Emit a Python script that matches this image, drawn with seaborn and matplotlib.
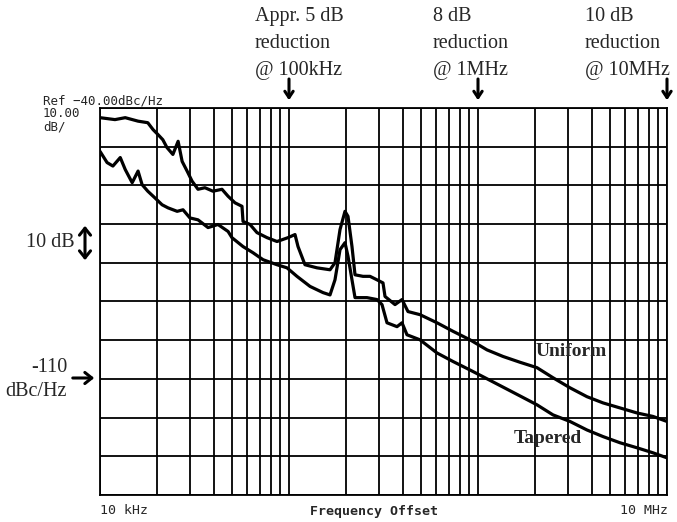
import numpy as np
import pandas as pd
import matplotlib
matplotlib.use('Agg')
import matplotlib.pyplot as plt
from matplotlib.ticker import LogLocator, NullFormatter
import seaborn as sns

# ============================================================
# Trace data
# (frequency offset in kHz, phase noise in dBc/Hz)
# ============================================================
uniform_khz = [10.0, 12.0, 13.6, 15.9, 17.9, 19.1, 20.3, 21.5, 22.6, 24.3,
               25.9, 27.2, 28.9, 30.7, 33.0, 35.9, 39.6, 44.2, 47.6, 51.8,
               56.4, 57.1, 62.2, 67.7, 76.5, 86.4, 98.8, 107.6, 111.6, 121.5,
               140.6, 164.8, 175.1, 186.2, 197.8, 205.2, 215.4, 223.5, 246.3, 268.3,
               292.2, 303.0, 314.3, 322.1, 363.8, 396.2, 426.2, 493.3, 606.9, 737.5,
               907.2, 1116, 1356, 1668, 2052, 2494, 3068, 3773, 4585, 5640,
               6938, 8434, 10000]
uniform_db = [-42.5, -43.0, -42.5, -43.4, -43.8, -45.6, -46.9, -48.2, -50.2, -52.0,
              -48.6, -53.8, -56.3, -58.9, -61.0, -60.6, -61.5, -61.0, -62.8, -64.5,
              -65.4, -69.3, -70.1, -72.2, -73.5, -74.5, -73.5, -72.7, -75.8, -80.5,
              -81.3, -81.8, -80.0, -71.4, -66.7, -68.0, -75.8, -83.1, -83.5, -83.5,
              -84.4, -84.8, -85.2, -88.7, -90.8, -89.5, -92.6, -93.4, -95.5, -97.7,
              -99.9, -102.5, -104.2, -105.7, -107.1, -109.7, -112.3, -114.6, -116.2, -117.5,
              -118.8, -119.7, -121.0]

tapered_khz = [10.0, 10.9, 11.7, 12.8, 13.6, 14.8, 15.9, 16.7, 17.9, 19.5,
               21.3, 22.9, 25.6, 27.5, 29.9, 33.0, 37.3, 42.1, 47.6, 49.9,
               57.1, 64.5, 72.9, 86.4, 97.6, 110.2, 129.2, 151.3, 164.8, 175.1,
               186.2, 197.8, 205.2, 215.4, 223.5, 258.6, 292.2, 310.5, 330.0, 372.8,
               396.2, 421.0, 493.3, 606.9, 737.5, 907.2, 1089, 1668, 2052, 2494,
               3068, 3773, 4585, 5640, 6938, 8434, 10000]
tapered_db = [-51.2, -54.1, -55.0, -52.8, -55.9, -59.3, -56.3, -59.8, -61.5, -63.2,
              -65.0, -65.8, -66.7, -66.3, -68.4, -68.9, -70.9, -70.1, -71.9, -73.5,
              -75.8, -77.4, -79.2, -80.5, -81.3, -83.5, -86.1, -87.7, -88.3, -84.4,
              -76.6, -74.8, -78.3, -84.4, -89.0, -89.0, -89.5, -90.8, -95.5, -96.5,
              -95.5, -98.6, -99.9, -103.3, -105.5, -107.7, -109.7, -114.4, -116.7, -119.3,
              -121.0, -123.2, -124.9, -126.5, -127.8, -129.1, -130.4]

ref_level = -40
db_per_div = 10
n_div = 10
f_start, f_stop = 1e4, 1e7

df = pd.concat([
    pd.DataFrame({'freq': np.array(uniform_khz) * 1e3, 'level': uniform_db, 'trace': 'Uniform'}),
    pd.DataFrame({'freq': np.array(tapered_khz) * 1e3, 'level': tapered_db, 'trace': 'Tapered'}),
])

# ============================================================
# Figure
# ============================================================
sns.set_style('white')
plt.rcParams['font.family'] = ['DejaVu Sans']

W, H = 677, 522
fig = plt.figure(figsize=(W / 100, H / 100), dpi=100)


def fx(px):
    return px / W


def fy(py):
    return 1 - py / H


ax = fig.add_axes([fx(100), fy(495), 567 / W, 387 / H])

sns.lineplot(data=df, x='freq', y='level', hue='trace',
             palette={'Uniform': 'black', 'Tapered': 'black'},
             estimator=None, sort=False, legend=False, lw=2.3, ax=ax)

ax.set_xscale('log')
ax.set_xlim(f_start, f_stop)
ax.set_ylim(ref_level - n_div * db_per_div, ref_level)
ax.set_yticks(np.arange(ref_level - n_div * db_per_div, ref_level + 1, db_per_div))
ax.xaxis.set_major_locator(LogLocator(base=10))
ax.xaxis.set_minor_locator(LogLocator(base=10, subs=range(2, 10)))
ax.xaxis.set_minor_formatter(NullFormatter())
ax.grid(which='both', color='black', lw=1.3)
ax.tick_params(which='both', length=0, labelbottom=False, labelleft=False)
ax.set_xlabel('')
ax.set_ylabel('')
for s in ax.spines.values():
    s.set_color('black')
    s.set_linewidth(1.3)

# analyzer annotations (monospace)
mono = 'DejaVu Sans Mono'
fig.text(fx(43), fy(104), 'Ref \u221240.00dBc/Hz', family=mono, fontsize=9, va='baseline')
fig.text(fx(43), fy(117), '10.00', family=mono, fontsize=9, va='baseline')
fig.text(fx(43), fy(130), 'dB/', family=mono, fontsize=9, va='baseline')
fig.text(fx(100), fy(511), '10 kHz', family=mono, fontsize=9.5, va='center')
fig.text(fx(374), fy(511), 'Frequency Offset', family=mono, fontsize=9.5,
         fontweight='bold', va='center', ha='center')
fig.text(fx(668), fy(511), '10 MHz', family=mono, fontsize=9.5, va='center', ha='right')

# paper annotations (serif)
serif = 'Liberation Serif'
notes = [(255, 'Appr. 5 dB\nreduction\n@ 100kHz', 1e5),
         (433, '8 dB\nreduction\n@ 1MHz', 1e6),
         (585, '10 dB\nreduction\n@ 10MHz', 1e7)]
for px, txt, f in notes:
    fig.text(fx(px), fy(7), txt, family=serif, fontsize=14.5, va='top',
             linespacing=1.56)
    ax.annotate('', xy=(f, 1.02), xycoords=('data', 'axes fraction'),
                xytext=(f, 1.075), textcoords=('data', 'axes fraction'),
                arrowprops=dict(arrowstyle='->,head_length=0.45,head_width=0.3',
                                color='black', lw=2.2, shrinkA=0, shrinkB=0),
                annotation_clip=False)

fig.text(fx(75), fy(243), '10 dB', family=serif, fontsize=14.5, va='center', ha='right')
fig.patches.append(matplotlib.patches.FancyArrowPatch(
    (fx(85), fy(263)), (fx(85), fy(223)), transform=fig.transFigure,
    arrowstyle='<->,head_length=5,head_width=4', color='black', lw=2.2))

fig.text(fx(67), fy(368), '-110', family=serif, fontsize=14.5, va='center', ha='right')
fig.text(fx(67), fy(391), 'dBc/Hz', family=serif, fontsize=14.5, va='center', ha='right')
fig.patches.append(matplotlib.patches.FancyArrowPatch(
    (fx(70), fy(378)), (fx(97), fy(378)), transform=fig.transFigure,
    arrowstyle='->,head_length=5,head_width=4', color='black', lw=2.2))

ax.text(3.1e6, -102.9, 'Uniform', family=serif, fontsize=14, fontweight='bold',
        va='center', ha='center')
ax.text(2.35e6, -125.4, 'Tapered', family=serif, fontsize=14, fontweight='bold',
        va='center', ha='center')

fig.savefig('out.png', dpi=100)
plt.close(fig)
